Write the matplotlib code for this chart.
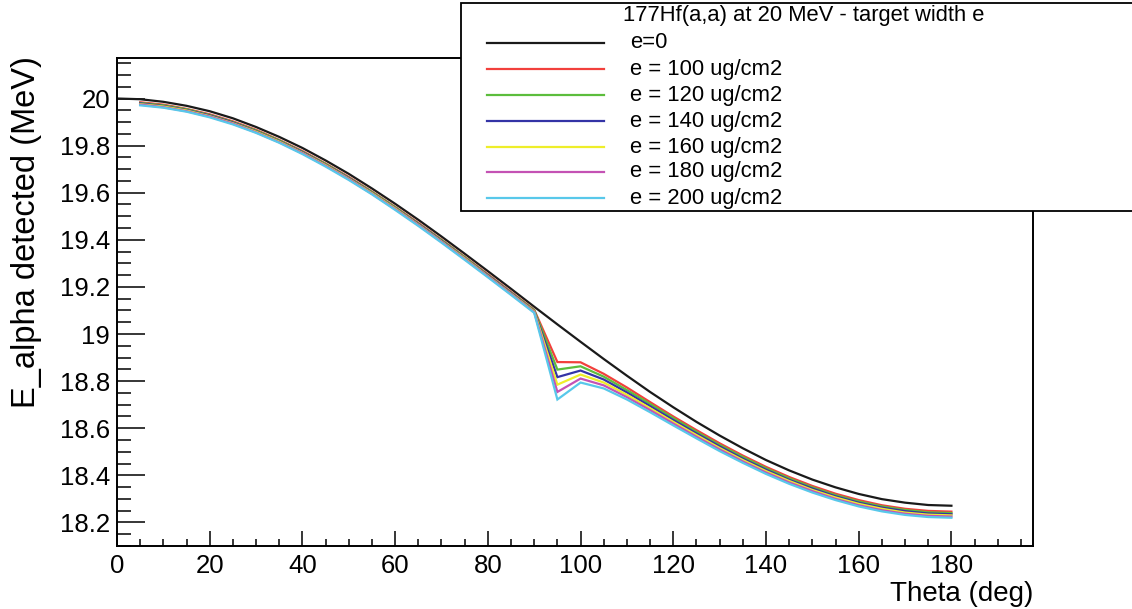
import numpy as np
import matplotlib
matplotlib.use("Agg")
import matplotlib.pyplot as plt
from matplotlib.patches import Rectangle
from matplotlib.lines import Line2D
from matplotlib.ticker import MultipleLocator, FixedLocator

plt.rcParams['font.family'] = ['Liberation Sans', 'DejaVu Sans']

# ---------------- data ----------------
theta_e0 = [0, 5, 10, 15, 20, 25, 30, 35, 40, 45, 50, 55, 60, 65, 70, 75, 80, 85, 90,
            95, 100, 105, 110, 115, 120, 125, 130, 135, 140, 145, 150, 155, 160, 165,
            170, 175, 180]
energy_e0 = [20.000, 19.997, 19.986, 19.969, 19.946, 19.916, 19.879, 19.837, 19.790,
             19.737, 19.680, 19.618, 19.553, 19.485, 19.414, 19.341, 19.267, 19.192,
             19.116, 19.041, 18.967, 18.894, 18.823, 18.754, 18.689, 18.627, 18.569,
             18.515, 18.465, 18.421, 18.382, 18.349, 18.321, 18.299, 18.284, 18.274,
             18.271]

theta = [5, 10, 15, 20, 25, 30, 35, 40, 45, 50, 55, 60, 65, 70, 75, 80, 85, 90,
         95, 100, 105, 110, 115, 120, 125, 130, 135, 140, 145, 150, 155, 160, 165,
         170, 175, 180]

energy_e100 = [19.984, 19.974, 19.956, 19.933, 19.903, 19.867, 19.824, 19.777, 19.724,
               19.667, 19.605, 19.540, 19.472, 19.401, 19.328, 19.254, 19.179, 19.103,
               18.881, 18.880, 18.831, 18.773, 18.711, 18.650, 18.592, 18.536, 18.484,
               18.436, 18.393, 18.355, 18.322, 18.295, 18.273, 18.258, 18.249, 18.246]
energy_e120 = [19.981, 19.971, 19.954, 19.930, 19.900, 19.864, 19.822, 19.774, 19.722,
               19.664, 19.603, 19.538, 19.469, 19.399, 19.326, 19.251, 19.176, 19.101,
               18.849, 18.863, 18.819, 18.762, 18.703, 18.643, 18.585, 18.529, 18.478,
               18.430, 18.387, 18.349, 18.316, 18.289, 18.268, 18.253, 18.243, 18.240]
energy_e140 = [19.979, 19.968, 19.951, 19.928, 19.898, 19.861, 19.819, 19.772, 19.719,
               19.662, 19.600, 19.535, 19.467, 19.396, 19.323, 19.249, 19.174, 19.098,
               18.817, 18.845, 18.807, 18.752, 18.694, 18.635, 18.578, 18.523, 18.471,
               18.424, 18.381, 18.344, 18.311, 18.284, 18.263, 18.248, 18.238, 18.235]
energy_e160 = [19.976, 19.966, 19.949, 19.925, 19.895, 19.859, 19.817, 19.769, 19.717,
               19.659, 19.598, 19.533, 19.464, 19.393, 19.321, 19.246, 19.171, 19.096,
               18.785, 18.828, 18.794, 18.742, 18.685, 18.627, 18.571, 18.516, 18.465,
               18.418, 18.376, 18.338, 18.306, 18.279, 18.258, 18.242, 18.233, 18.230]
energy_e180 = [19.974, 19.963, 19.946, 19.923, 19.893, 19.856, 19.814, 19.767, 19.714,
               19.657, 19.595, 19.530, 19.462, 19.391, 19.318, 19.244, 19.169, 19.093,
               18.754, 18.811, 18.782, 18.732, 18.677, 18.620, 18.564, 18.510, 18.459,
               18.412, 18.370, 18.333, 18.300, 18.273, 18.252, 18.237, 18.228, 18.225]
energy_e200 = [19.971, 19.961, 19.944, 19.920, 19.890, 19.854, 19.812, 19.764, 19.711,
               19.654, 19.593, 19.527, 19.459, 19.388, 19.315, 19.241, 19.166, 19.090,
               18.722, 18.794, 18.769, 18.722, 18.668, 18.612, 18.557, 18.503, 18.453,
               18.406, 18.364, 18.327, 18.295, 18.268, 18.247, 18.232, 18.223, 18.220]

series_labels = ["e=0", "e = 100 ug/cm2", "e = 120 ug/cm2", "e = 140 ug/cm2",
                 "e = 160 ug/cm2", "e = 180 ug/cm2", "e = 200 ug/cm2"]
series_colors = ["#1a1a1a", "#f2403c", "#5cbd3c", "#3434a6", "#eeee2a", "#c452b4", "#58c8ea"]
legend_title = "177Hf(a,a) at 20 MeV - target width e"

x_ticks = [0, 20, 40, 60, 80, 100, 120, 140, 160, 180]
y_ticks = [18.2, 18.4, 18.6, 18.8, 19.0, 19.2, 19.4, 19.6, 19.8, 20.0]
y_ticklabels = ["18.2", "18.4", "18.6", "18.8", "19", "19.2", "19.4", "19.6", "19.8", "20"]

# ---------------- figure ----------------
W, H = 1132, 609
fig = plt.figure(figsize=(W / 100, H / 100), dpi=100)
fig.patch.set_facecolor("white")

def px(x0, y0, x1, y1):
    return [x0 / W, 1 - y1 / H, (x1 - x0) / W, (y1 - y0) / H]

ax = fig.add_axes(px(117, 58, 1033, 546))

ys = [energy_e0, energy_e100, energy_e120, energy_e140, energy_e160, energy_e180, energy_e200]
xs = [theta_e0] + [theta] * 6
for x, y, c in zip(xs, ys, series_colors):
    ax.plot(x, y, color=c, lw=1.6, solid_joinstyle='miter')

ax.set_xlim(0, 197.6)
ax.set_ylim(18.100, 20.172)

ax.xaxis.set_major_locator(FixedLocator(x_ticks))
ax.xaxis.set_minor_locator(MultipleLocator(5))
ax.yaxis.set_major_locator(FixedLocator(y_ticks))
ax.set_yticklabels(y_ticklabels)
ax.yaxis.set_minor_locator(MultipleLocator(0.05))

ax.tick_params(axis='both', which='both', direction='in', top=False, right=False,
               width=1.1, color='black')
ax.tick_params(axis='x', which='major', length=10.8, pad=6, labelsize=18.5)
ax.tick_params(axis='x', which='minor', length=5)
ax.tick_params(axis='y', which='major', length=20, pad=5, labelsize=18.5)
ax.tick_params(axis='y', which='minor', length=10)
for s in ax.spines.values():
    s.set_linewidth(1.4)

ax.set_xlabel("Theta (deg)", fontsize=20, loc='right')
ax.xaxis.set_label_coords(1.0, -0.071)
ax.set_ylabel("E_alpha detected (MeV)", fontsize=23.5, loc='top')
ax.yaxis.set_label_coords(-0.082, 1.003)

# ---------------- legend box (ROOT style) ----------------
box = Rectangle((461 / W, 1 - 211 / H), (1180 - 461) / W, (211 - 3) / H,
                transform=fig.transFigure, facecolor='white', edgecolor='black',
                lw=1.3, zorder=10, clip_on=False)
fig.add_artist(box)

fig.text(623 / W, 1 - 16 / H, legend_title, fontsize=15.8, ha='left', va='center',
         zorder=12)
row_y = [43, 69, 95, 121, 147, 172, 198]
for lab, c, yy in zip(series_labels, series_colors, row_y):
    fig.add_artist(Line2D([487 / W, 604 / W], [1 - yy / H, 1 - yy / H],
                          transform=fig.transFigure, color=c, lw=1.6, zorder=12))
    fig.text(630 / W, 1 - yy / H, lab, fontsize=15.8, ha='left', va='center', zorder=12)

fig.savefig("out.png", dpi=100, facecolor="white")
